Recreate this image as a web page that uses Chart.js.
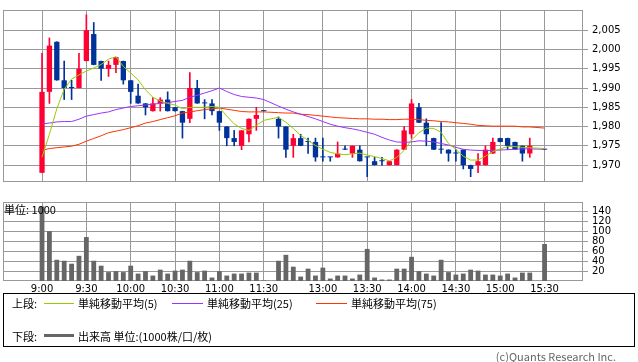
<!DOCTYPE html>
<html lang="ja">
<head>
  <meta charset="UTF-8">
  <title>株価チャート 5分足</title>
  <script src="https://cdn.jsdelivr.net/npm/chart.js"></script>
  <style>
    body { margin: 0; background: #fff; width: 638px; height: 362px; position: relative; overflow: hidden; }
    canvas { position: absolute; left: 0; }
    .txt { position: absolute; font-family: 'Noto Sans CJK JP', sans-serif; font-size: 11px; line-height: 14px; color: #000; white-space: nowrap; }
    .ln { position: absolute; height: 0; }
    #legend { position: absolute; left: 3px; top: 293px; width: 630px; height: 52px; border: 1px solid #000; }
  </style>
</head>
<body>

  <canvas id="priceChart" width="638" height="192" style="top:0"></canvas>
  <canvas id="volumeChart" width="638" height="108" style="top:192px"></canvas>

  <div class="txt" style="left:4px; top:202px;">単位: 1000</div>

  <div id="legend">
    <div class="txt" style="left:8px; top:2px;">上段:</div>
    <div class="ln" style="left:40px; top:9px; width:30px; border-top:1px solid #99cc00;"></div>
    <div class="txt" style="left:74px; top:2px;">単純移動平均(5)</div>
    <div class="ln" style="left:168px; top:9px; width:31px; border-top:1px solid #9933ff;"></div>
    <div class="txt" style="left:203px; top:2px;">単純移動平均(25)</div>
    <div class="ln" style="left:312px; top:9px; width:31px; border-top:1px solid #ff3300;"></div>
    <div class="txt" style="left:347px; top:2px;">単純移動平均(75)</div>

    <div class="txt" style="left:8px; top:35px;">下段:</div>
    <div class="ln" style="left:40px; top:40px; width:30px; border-top:3px solid #666;"></div>
    <div class="txt" style="left:74px; top:35px;">出来高 単位:(1000株/口/枚)</div>
  </div>

  <div class="txt" style="right:22px; top:349px; color:#666;">(c)Quants Research Inc.</div>

  <script>
    // 5-minute slots: 0 = 9:00 ... 30 = 11:30, 31 = lunch gap, 32 = 12:30 ... 68 = 15:30
    const tickSlots  = [0, 6, 12, 18, 24, 30, 38, 44, 50, 56, 62, 68];
    const tickLabels = ['9:00', '9:30', '10:00', '10:30', '11:00', '11:30', '13:00', '13:30', '14:00', '14:30', '15:00', '15:30'];
    const priceTicks = [1970, 1975, 1980, 1985, 1990, 1995, 2000, 2005];
    const volumeTicks = [20, 40, 60, 80, 100, 120, 140];

    const openP = [
      1968, 1989, 2002, 1992, 1990, 1990, 1997, 2004, 1997, 1995,
      1996, 1997, 1992, 1988, 1986, 1984, 1986, 1987, 1985, 1984,
      1982, 1990, 1986, 1986, 1984, 1980, 1977, 1975, 1978, 1982,
      1984, null, 1982, 1980, 1975, 1977, 1976, 1976, 1972, 1972,
      1972, 1974, 1973, 1974, 1972, 1971, 1971, 1970, 1970, 1974,
      1978, 1985, 1981, 1977, 1974, 1974, 1973, 1974, 1970, 1970,
      1970, 1973, 1977, 1977, 1976, 1975, 1973, null, 1974
    ];
    const closeP = [
      1989, 2001, 1992, 1990, 1990, 1995, 2005, 1996, 1995, 1996,
      1998, 1992, 1989, 1986, 1985, 1986, 1987, 1984, 1984, 1981,
      1990, 1986, 1986, 1984, 1981, 1977, 1976, 1979, 1982, 1983,
      1984, null, 1980, 1974, 1977, 1975, 1976, 1972, 1972, 1972,
      1973, 1974, 1975, 1971, 1972, 1970, 1971, 1971, 1974, 1979,
      1986, 1981, 1978, 1974, 1974, 1973, 1973, 1970, 1969, 1971,
      1974, 1976, 1976, 1975, 1974, 1973, 1975, null, 1974
    ];
    const highP = [
      1999, 2003, 2002, 1997, 1992, 1999, 2009, 2007, 1997, 1997,
      1998, 1997, 1992, 1991, 1986, 1987.5, 1987.5, 1989, 1985, 1984,
      1994, 1992, 1987, 1987, 1984, 1980, 1979, 1979, 1982, 1985,
      1984, null, 1982.5, 1980, 1978, 1978, 1977, 1977, 1977, 1972,
      1976, 1975, 1975, 1975, 1972, 1972, 1972, 1971, 1974, 1980,
      1987, 1986, 1982, 1977, 1981, 1974, 1974, 1974, 1970, 1973,
      1975, 1977, 1977, 1977, 1976, 1975, 1977, null, 1974
    ];
    const lowP = [
      1968, 1986, 1992, 1987, 1987, 1990, 1997, 1996, 1992, 1993,
      1994, 1991, 1986, 1986, 1983, 1984, 1984, 1984, 1984, 1977,
      1981, 1986, 1982, 1983, 1979, 1975, 1975, 1974, 1976, 1979,
      1984, null, 1977, 1972, 1972, 1975, 1973, 1971, 1971, 1971,
      1972, 1974, 1972, 1971, 1967, 1970, 1970, 1970, 1970, 1974,
      1977, 1981, 1975, 1974, 1973, 1971, 1971, 1969, 1967, 1968,
      1970, 1973, 1976, 1974, 1974, 1971, 1972, null, 1974
    ];

    const ma5 = [
      1972.0, 1978.0, 1984.6, 1989.7, 1992.3, 1993.4, 1994.4, 1995.2, 1996.1, 1997.5,
      1998.1, 1995.6, 1993.9, 1992.1, 1989.5, 1987.6, 1986.6, 1986.0, 1985.6, 1984.6,
      1985.0, 1985.0, 1985.0, 1985.2, 1985.0, 1982.7, 1980.7, 1979.5, 1979.0, 1980.3,
      1981.6, null, 1982.4, 1981.1, 1979.5, 1977.7, 1976.4, 1975.1, 1974.1, 1973.3,
      1972.9, 1972.7, 1972.9, 1973.1, 1972.6, 1972.2, 1971.7, 1971.1, 1972.0, 1973.8,
      1976.5, 1978.4, 1979.6, 1979.5, 1978.5, 1975.6, 1974.1, 1972.3, 1971.3, 1971.3,
      1972.3, 1973.5, 1974.2, 1974.8, 1974.8, 1974.6, 1974.5, null, 1974.3
    ];
    const ma25 = [
      1980.7, 1980.9, 1981.2, 1981.3, 1981.3, 1981.9, 1982.7, 1983.1, 1983.5, 1983.8,
      1984.4, 1984.8, 1985.2, 1985.4, 1985.6, 1985.8, 1986.0, 1986.2, 1986.5, 1986.8,
      1987.6, 1988.1, 1988.7, 1989.3, 1990.0, 1989.1, 1988.3, 1987.8, 1987.6, 1987.4,
      1987.0, null, 1985.3, 1984.5, 1983.8, 1983.2, 1982.6, 1982.0, 1981.3, 1980.6,
      1980.1, 1979.7, 1979.4, 1979.0, 1978.5, 1978.0, 1977.2, 1976.5, 1976.0, 1975.9,
      1976.0, 1976.3, 1976.2, 1976.0, 1975.6, 1975.2, 1974.6, 1974.1, 1973.9, 1973.8,
      1973.8, 1973.8, 1973.9, 1974.0, 1974.1, 1974.2, 1974.2, null, 1974.1
    ];
    const ma75 = [
      1973.8, 1974.3, 1974.5, 1974.7, 1974.9, 1975.4, 1976.2, 1976.9, 1977.6, 1978.4,
      1978.8, 1979.2, 1979.7, 1980.2, 1980.9, 1981.3, 1981.8, 1982.3, 1982.8, 1983.5,
      1983.8, 1984.1, 1984.4, 1984.6, 1984.8, 1984.5, 1984.2, 1983.9, 1983.8, 1983.8,
      1983.8, null, 1983.6, 1983.5, 1983.5, 1983.2, 1983.1, 1982.9, 1982.7, 1982.5,
      1982.3, 1982.2, 1982.1, 1982.0, 1982.0, 1981.9, 1981.9, 1981.8, 1981.8, 1981.9,
      1981.9, 1981.8, 1981.6, 1981.5, 1981.3, 1981.2, 1981.0, 1980.8, 1980.6, 1980.3,
      1980.2, 1980.1, 1980.1, 1980.1, 1980.1, 1979.9, 1979.9, null, 1979.6
    ];

    const volume = [
      151, 101, 43, 41, 35, 51, 89, 41, 31, 18,
      20, 18, 31, 15, 20, 11, 23, 15, 21, 23,
      41, 18, 21, 7, 20, 11, 15, 15, 17, 17,
      1, null, 41, 53, 29, 9, 25, 11, 27, 5,
      11, 11, 5, 13, 65, 7, 3, 3, 25, 25,
      49, 20, 15, 11, 43, 18, 13, 15, 23, 21,
      13, 13, 11, 15, 7, 17, 17, null, 75
    ];

    const RED = '#ff0033';
    const BLUE = '#003399';
    const GRID = '#999999';
    const tickFont = { family: 'DejaVu Sans', size: 10 };

    // slots that actually have a candle / value
    const live = openP.map((v, i) => i).filter(i => openP[i] !== null);
    const candleColor = live.map(i => closeP[i] > openP[i] ? RED : BLUE);

    const xMin = -5.28, xMax = 73.2;

    // grey frame around each plot area
    const frame = {
      id: 'frame',
      beforeDatasetsDraw(chart) {
        const { ctx, chartArea: a } = chart;
        ctx.save();
        ctx.strokeStyle = GRID;
        ctx.lineWidth = 1;
        ctx.strokeRect(Math.round(a.left) + 0.5, Math.round(a.top) + 0.5,
          Math.round(a.right - a.left) - 1, Math.round(a.bottom - a.top) - 1);
        ctx.restore();
      }
    };

    function xAxis(showLabels) {
      return {
        type: 'linear',
        min: xMin,
        max: xMax,
        offset: false,
        afterBuildTicks: s => { s.ticks = tickSlots.map(v => ({ value: v })); },
        afterFit: s => { s.height = showLabels ? 19 : 0; },
        grid: { color: GRID, drawTicks: false, offset: false },
        border: { display: false },
        ticks: {
          display: showLabels,
          autoSkip: false,
          maxRotation: 0,
          padding: 2,
          color: '#000',
          font: tickFont,
          callback: v => tickLabels[tickSlots.indexOf(v)]
        }
      };
    }

    function yAxis(min, max, values, fmt) {
      return {
        position: 'right',
        min: min,
        max: max,
        afterBuildTicks: s => { s.ticks = values.map(v => ({ value: v })); },
        afterFit: s => { s.width = 55; },
        grid: { color: GRID, tickLength: 5 },
        border: { display: false },
        ticks: {
          autoSkip: false,
          padding: 4,
          color: '#000',
          font: tickFont,
          callback: fmt
        }
      };
    }

    const lineStyle = { type: 'line', pointRadius: 0, borderWidth: 1, tension: 0, fill: false, order: 0 };

    new Chart(document.getElementById('priceChart'), {
      type: 'bar',
      data: {
        datasets: [
          Object.assign({ label: 'MA5', borderColor: '#99cc00',
            data: live.map(i => ({ x: i, y: ma5[i] })) }, lineStyle),
          Object.assign({ label: 'MA25', borderColor: '#9933ff',
            data: live.map(i => ({ x: i, y: ma25[i] })) }, lineStyle),
          Object.assign({ label: 'MA75', borderColor: '#ff3300',
            data: live.map(i => ({ x: i, y: ma75[i] })) }, lineStyle),
          {
            label: 'body',
            order: 1,
            data: live.map(i => ({ x: i, y: [openP[i], closeP[i]] })),
            backgroundColor: candleColor,
            barPercentage: 0.72,
            categoryPercentage: 1,
            minBarLength: 1,
            grouped: false
          },
          {
            label: 'wick',
            order: 2,
            data: live.map(i => ({ x: i, y: [lowP[i], highP[i]] })),
            backgroundColor: candleColor,
            barThickness: 1,
            grouped: false
          }
        ]
      },
      options: {
        responsive: false,
        animation: false,
        events: [],
        layout: { padding: { left: 3, top: 1, right: 0, bottom: 1 } },
        plugins: { legend: { display: false }, tooltip: { enabled: false } },
        scales: {
          x: xAxis(false),
          y: yAxis(1965.61, 2010.24, priceTicks, v => v.toLocaleString('en-US'))
        }
      },
      plugins: [frame]
    });

    new Chart(document.getElementById('volumeChart'), {
      type: 'bar',
      data: {
        datasets: [{
          label: '出来高',
          data: live.map(i => ({ x: i, y: volume[i] })),
          backgroundColor: '#666666',
          barPercentage: 0.65,
          categoryPercentage: 1
        }]
      },
      options: {
        responsive: false,
        animation: false,
        events: [],
        layout: { padding: { left: 3, top: 9, right: 0, bottom: 0 } },
        plugins: { legend: { display: false }, tooltip: { enabled: false } },
        scales: {
          x: xAxis(true),
          y: yAxis(0, 160, volumeTicks, v => v)
        }
      },
      plugins: [frame]
    });
  </script>

</body>
</html>
